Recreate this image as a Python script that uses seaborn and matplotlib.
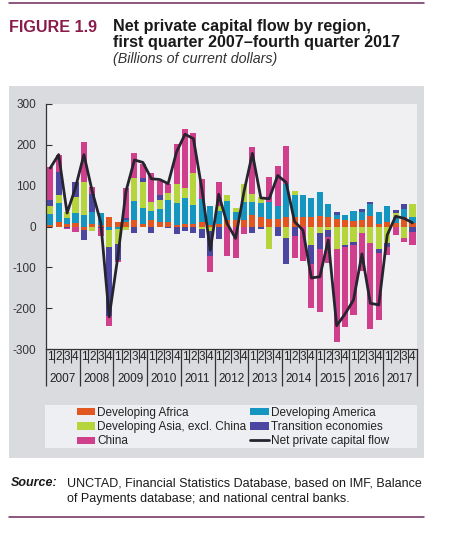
import numpy as np
import pandas as pd
import matplotlib
matplotlib.use("Agg")
import matplotlib.pyplot as plt
import matplotlib.transforms as mtransforms
from matplotlib.patches import Rectangle, Patch
from matplotlib.lines import Line2D
import seaborn as sns

# ---------------- data (billions of current dollars) ----------------
years = ["2007", "2008", "2009", "2010", "2011", "2012",
         "2013", "2014", "2015", "2016", "2017"]
quarter_labels = ["1", "2", "3", "4"]

africa = [3, 11, 7, 9, -8, 7, 3, 24,
          10, 12, 17, 5, 16, 11, 11, 3,
          5, 7, 10, 3, 7, 15, 15, 16,
          27, 24, 19, 19, 23, 23, 23, 24,
          25, 23, 19, 16, 14, 17, 25, 6,
          11, 8, 24, 8]
america = [27, 47, 13, 24, 27, 29, 30, -8,
           -7, 3, 45, 41, 21, 33, 53, 55,
           66, 45, 58, 47, 30, 48, 20, 43,
           32, 33, 40, 30, 81, 55, 53, 47,
           60, 32, 9, 12, 23, 18, 30, 30,
           39, 15, 19, 16]
asia = [20, 19, 15, 40, 83, -11, 0, -43,
        -35, -8, 58, 62, 24, 20, 18, 46,
        24, 78, -7, -12, 12, 15, 11, 44,
        21, 16, -56, 0, -29, 8, 0, -46,
        -17, -9, -56, -46, -37, -17, -40, -56,
        -40, 10, -28, 30]
transition = [15, 57, -3, 36, -24, 43, -3, -169,
              -40, 7, -15, 11, -17, 13, -3, -19,
              -12, -15, -20, -60, -30, 0, 0, 0,
              -17, -5, 0, -24, -62, -24, 0, -46,
              -37, -16, 8, -5, -9, 9, 5, -8,
              -11, 7, 12, -14]
china = [80, 41, -3, -13, 98, 17, -21, -23,
         -5, 72, 59, 35, 69, 34, 23, 97,
         143, 98, 49, -40, 60, -73, -78, -19,
         114, 0, 63, 98, 93, -52, -84, -107,
         -156, -64, -228, -196, -170, -92, -210, -164,
         -19, -20, -9, -32]
net_flow = [143, 176, 33, 95, 176, 85, 10, -221,
            -78, 87, 163, 157, 117, 115, 105, 183,
            226, 215, 92, -58, 79, 7, -29, 85,
            179, 70, 68, 125, 108, 12, -9, -126,
            -123, -33, -243, -214, -180, -67, -188, -192,
            -21, 25, 20, 9]

series_names = ["Developing Africa", "Developing America",
                "Developing Asia, excl. China", "Transition economies", "China"]
series_values = [africa, america, asia, transition, china]
series_colors = ["#e2561f", "#1496c0", "#b6d43b", "#4b47a0", "#cf3f8c"]
line_color = "#25242f"
line_label = "Net private capital flow"

# ---------------- figure ----------------
sns.set_theme(style="white")
plt.rcParams["font.family"] = ["Liberation Sans", "DejaVu Sans"]
plt.rcParams["axes.unicode_minus"] = False
narrow = ["Liberation Sans Narrow", "Liberation Sans", "DejaVu Sans"]

W, H = 450, 534
fig = plt.figure(figsize=(W / 100, H / 100), dpi=100)
fig.patch.set_facecolor("white")

def fx(px):
    return px / W

def fy(py):
    return 1 - py / H

# grey panel
fig.patches.append(Rectangle((fx(9), fy(458)), fx(424) - fx(9), fy(86) - fy(458),
                             transform=fig.transFigure, facecolor="#dadbdf",
                             edgecolor="none", zorder=0))
# legend box
fig.patches.append(Rectangle((fx(45), fy(448)), fx(417) - fx(45), fy(405) - fy(448),
                             transform=fig.transFigure, facecolor="#eeeff2",
                             edgecolor="none", zorder=0.5))
# rule lines
rule = "#6e2a5a"
fig.add_artist(Line2D([fx(9), fx(424)], [fy(3), fy(3)], color=rule, lw=1.1,
                      transform=fig.transFigure))
fig.add_artist(Line2D([fx(9), fx(424)], [fy(517), fy(517)], color=rule, lw=1.1,
                      transform=fig.transFigure))

# titles
fig.text(fx(9), fy(31.5), "FIGURE 1.9", color="#8a1c4c", fontsize=11.6,
         fontweight="bold", va="baseline", ha="left")
fig.text(fx(113), fy(31.5), "Net private capital flow by region,", color="#1a1a1a",
         fontsize=11.6, fontweight="bold", va="baseline", ha="left")
fig.text(fx(113), fy(47), "first quarter 2007\u2013fourth quarter 2017", color="#1a1a1a",
         fontsize=11.6, fontweight="bold", va="baseline", ha="left")
fig.text(fx(113), fy(63.5), "(Billions of current dollars)", color="#333333",
         fontsize=10.3, style="italic", va="baseline", ha="left")

# source
fig.text(fx(11), fy(486.5), "Source:", color="#1a1a1a", fontsize=9,
         fontweight="bold", style="italic", va="baseline", ha="left")
fig.text(fx(67), fy(486.5), "UNCTAD, Financial Statistics Database, based on IMF, Balance",
         color="#1a1a1a", fontsize=9, va="baseline", ha="left")
fig.text(fx(67), fy(502), "of Payments database; and national central banks.",
         color="#1a1a1a", fontsize=9, va="baseline", ha="left")

# axes
ax = fig.add_axes([fx(46), fy(349), fx(416.7) - fx(46), fy(104) - fy(349)])
ax.set_facecolor("#f0f0f3")
ax.set_zorder(1)

n = len(net_flow)
idx = np.arange(n)
pos_bottom = np.zeros(n)
neg_bottom = np.zeros(n)
for name, vals, col in zip(series_names, series_values, series_colors):
    v = np.array(vals, dtype=float)
    bottoms = np.where(v >= 0, pos_bottom, neg_bottom)
    ax.bar(idx, v, bottom=bottoms, width=0.72, color=col, edgecolor="none",
           label=name, zorder=2)
    pos_bottom = pos_bottom + np.where(v > 0, v, 0)
    neg_bottom = neg_bottom + np.where(v < 0, v, 0)

df_line = pd.DataFrame({"q": idx, "net": net_flow})
sns.lineplot(data=df_line, x="q", y="net", ax=ax, color=line_color, lw=2,
             zorder=3, legend=False)

ax.set_xlim(-0.5, n - 0.5)
ax.set_ylim(-300, 300)
ax.set_xlabel("")
ax.set_ylabel("")

yt = list(range(-300, 301, 100))
ax.set_yticks(yt)
ax.set_yticklabels([str(v) for v in yt], family=narrow, fontsize=8.5, color="#333333")
ax.tick_params(axis="y", direction="in", length=4, width=0.8, color="#333333", pad=7,
               left=True)

# quarter / year boundaries on x axis
ax.set_xticks(np.arange(-0.5, n, 4))
ax.set_xticks(np.arange(-0.5, n, 1), minor=True)
ax.set_xticklabels([])
ax.tick_params(axis="x", which="major", direction="out", length=26.5, width=0.9,
               color="#333333", bottom=True)
ax.tick_params(axis="x", which="minor", direction="out", length=10, width=0.8,
               color="#333333", bottom=True)

trans = mtransforms.blended_transform_factory(ax.transData, ax.transAxes)
axes_h_px = 245.0
for i in range(n):
    ax.text(i, -8.5 / axes_h_px, quarter_labels[i % 4], transform=trans,
            ha="center", va="center", fontsize=8.5, family=narrow, color="#222222")
for k, yr in enumerate(years):
    ax.text(4 * k + 1.5, -30.5 / axes_h_px, yr, transform=trans,
            ha="center", va="center", fontsize=8.5, family=narrow, color="#222222")

for s in ["top", "right"]:
    ax.spines[s].set_visible(False)
for s in ["left", "bottom"]:
    ax.spines[s].set_visible(True)
    ax.spines[s].set_color("#333333")
    ax.spines[s].set_linewidth(0.9)
ax.grid(False)

# legend (two columns)
h = [Patch(facecolor=c, edgecolor="none") for c in series_colors]
lh = Line2D([0], [0], color=line_color, lw=2)
col1 = [(h[0], series_names[0]), (h[2], series_names[2]), (h[4], series_names[4])]
col2 = [(h[1], series_names[1]), (h[3], series_names[3]), (lh, line_label)]
for items, xpx in [(col1, 76.5), (col2, 250)]:
    leg = fig.legend([a for a, b in items], [b for a, b in items],
                     loc="upper left", bbox_to_anchor=(fx(xpx), fy(407)),
                     bbox_transform=fig.transFigure, frameon=False,
                     prop={"family": narrow, "size": 8.5},
                     handlelength=1.6, handleheight=0.55, handletextpad=0.15,
                     borderpad=0.0, borderaxespad=0.0, labelspacing=0.18)
    for t in leg.get_texts():
        t.set_color("#222222")

fig.savefig("out.png", dpi=100, facecolor="white")
